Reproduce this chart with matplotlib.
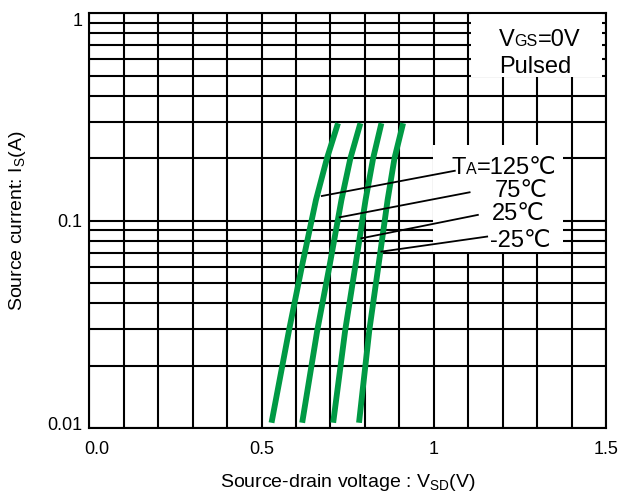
import matplotlib
matplotlib.use('Agg')
import matplotlib.pyplot as plt
import matplotlib.transforms as mtransforms
from matplotlib.offsetbox import TextArea, HPacker, AnnotationBbox
from matplotlib.patches import Rectangle
from matplotlib.ticker import MultipleLocator, LogLocator, NullFormatter

plt.rcParams['font.family'] = ['Liberation Sans', 'DejaVu Sans']
plt.rcParams['mathtext.fontset'] = 'custom'
plt.rcParams['mathtext.rm'] = 'Liberation Sans'

# data
current = [0.0106, 0.0297, 0.060, 0.1259, 0.2, 0.295]
vsd_125 = [0.529, 0.580, 0.617, 0.658, 0.690, 0.722]
vsd_75 = [0.618, 0.662, 0.697, 0.732, 0.758, 0.787]
vsd_25 = [0.708, 0.743, 0.772, 0.802, 0.824, 0.848]
vsd_m25 = [0.783, 0.813, 0.839, 0.866, 0.886, 0.911]

# leader lines from the curves to the labels
lead_x0 = [0.675, 0.727, 0.790, 0.848]
lead_y0 = [0.1315, 0.1038, 0.0822, 0.0709]
lead_x1 = [1.061, 1.104, 1.128, 1.155]
lead_y1 = [0.174, 0.137, 0.1066, 0.0838]

x_ticks = [0.0, 0.5, 1.0, 1.5]
x_labels = ['0.0', '0.5', '1', '1.5']
y_ticks = [0.01, 0.1, 1]
y_labels = ['0.01', '0.1', '1']

green = '#009a44'
big = 17
small = 11.5

fig = plt.figure(figsize=(6.19, 4.92), dpi=100)
ax = fig.add_axes([89.3/619, 1-428/492, (606-89.3)/619, (428-13.3)/492])

for v in [vsd_125, vsd_75, vsd_25, vsd_m25]:
    ax.plot(v, current, color=green, lw=4.2, solid_capstyle='butt', solid_joinstyle='round', zorder=3)

for i in range(4):
    ax.plot([lead_x0[i], lead_x1[i]], [lead_y0[i], lead_y1[i]], color='black', lw=1.3, zorder=4)

ax.set_yscale('log')
ax.set_xlim(0, 1.5)
ax.set_ylim(0.01, 1)

ax.set_xticks(x_ticks)
ax.set_xticklabels(x_labels)
ax.xaxis.set_minor_locator(MultipleLocator(0.1))
ax.set_yticks(y_ticks)
ax.set_yticklabels(y_labels)
ax.yaxis.set_minor_locator(LogLocator(base=10, subs=range(2, 10)))
ax.yaxis.set_minor_formatter(NullFormatter())

ax.tick_params(which='both', length=0)
ax.tick_params(axis='x', pad=9.5, labelsize=13)
ax.tick_params(axis='y', pad=5, labelsize=13)

# the scanned labels sit a little off their ticks
def nudge(lab, dx, dy):
    lab.set_transform(lab.get_transform() + mtransforms.ScaledTranslation(dx/100, dy/100, fig.dpi_scale_trans))

nudge(ax.get_xticklabels()[0], 8, 0)
nudge(ax.get_yticklabels()[0], 0, 4)
nudge(ax.get_yticklabels()[2], 0, -6)

ax.set_axisbelow(True)
ax.grid(which='both', color='black', lw=1.5)
for s in ax.spines.values():
    s.set_linewidth(1.5)
    s.set_color('black')

ax.set_xlabel(r'Source-drain voltage : V$_\mathregular{SD}$(V)', fontsize=14, labelpad=10)
ax.set_ylabel(r'Source current: I$_\mathregular{S}$(A)', fontsize=14, labelpad=14)

# white boxes behind the annotations
ax.add_patch(Rectangle((0.738, 0.846), 0.254, 0.154, transform=ax.transAxes,
                       facecolor='white', edgecolor='none', zorder=1))
ax.add_patch(Rectangle((0.665, 0.424), 0.252, 0.258, transform=ax.transAxes,
                       facecolor='white', edgecolor='none', zorder=1))


def sub_label(parts, x, y):
    kids = [TextArea(t, textprops=dict(size=s, color='black')) for t, s in parts]
    pack = HPacker(children=kids, align='baseline', pad=0, sep=0)
    ab = AnnotationBbox(pack, (x, y), xycoords='axes fraction', box_alignment=(0, 0),
                        frameon=False, pad=0, zorder=5)
    ax.add_artist(ab)


sub_label([('V', big), ('GS', small), ('=0V', big)], 0.7925, 0.910)
ax.text(0.793, 0.857, 'Pulsed', transform=ax.transAxes, fontsize=big, va='baseline', zorder=5)

sub_label([('T', big), ('A', small), ('=125℃', big)], 0.701, 0.600)
ax.text(0.785, 0.558, '75℃', transform=ax.transAxes, fontsize=big, va='baseline', zorder=5)
ax.text(0.780, 0.502, '25℃', transform=ax.transAxes, fontsize=big, va='baseline', zorder=5)
ax.text(0.775, 0.437, '-25℃', transform=ax.transAxes, fontsize=big, va='baseline', zorder=5)

fig.savefig('out.png', dpi=100)
